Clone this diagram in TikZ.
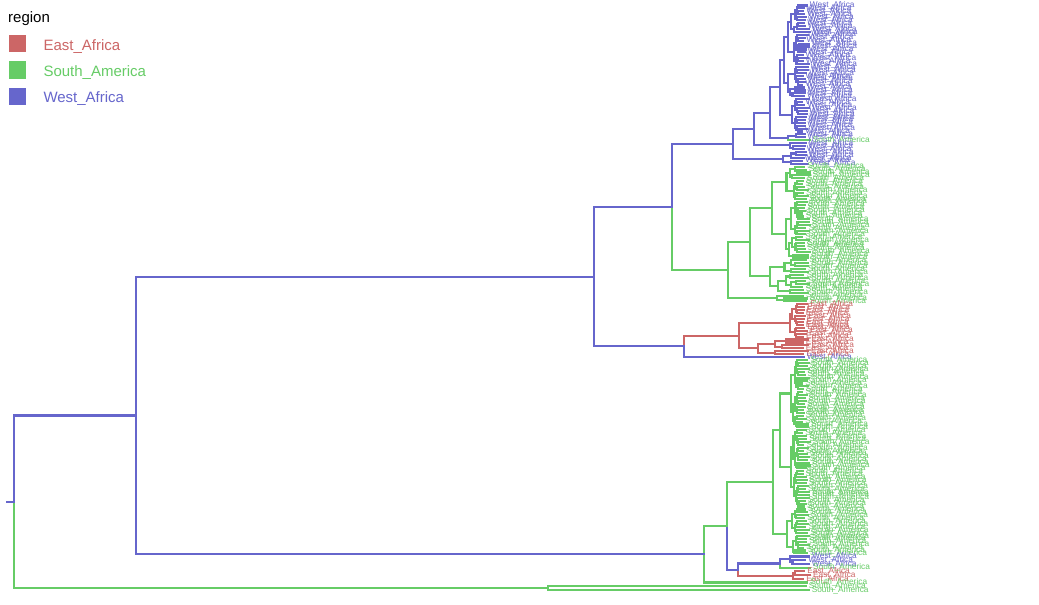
\documentclass[tikz,border=0pt]{standalone}
\usepackage{fontspec}
\setmainfont{Liberation Sans}
\definecolor{cE}{RGB}{204,102,102}
\definecolor{cS}{RGB}{102,204,102}
\definecolor{cW}{RGB}{102,102,204}
\newcommand\labcE{East\_Africa}
\newcommand\labcS{South\_America}
\newcommand\labcW{West\_Africa}
\tikzset{br/.style={line width=2.1pt, line cap=rect},
  lab/.style={font=\fontsize{8.3}{8.3}\selectfont, inner sep=0pt, anchor=west},
  legtext/.style={font=\fontsize{15}{15}\selectfont, inner sep=0pt, anchor=base west},
  swatch/.style={minimum size=17.5pt, inner sep=0pt, anchor=north west}}
% subtree: #1 parent x, #2 node x, #3 first leaf, #4 last leaf, #5 colour
\newcommand\bt[5]{%
  \begingroup
  \ifnum#3=#4\relax
    \pgfmathsetmacro\ly{leafy(#3)}%
    \pgfmathsetmacro\tx{802+8*rnd}%
    \draw[br,draw=#5] (#1,\ly) -- (\tx,\ly);
    \node[lab,text=#5] (leaf#3) at (\tx+3,\ly) {\csname lab#5\endcsname};
    \xdef\btY{\ly}%
  \else
    \pgfmathtruncatemacro\nn{#4-#3+1}%
    \pgfmathtruncatemacro\LL{max(1,min(\nn-1,round(\nn*(0.3+0.4*rnd))))}%
    \pgfmathtruncatemacro\mA{#3+\LL-1}%
    \pgfmathtruncatemacro\mB{\mA+1}%
    \pgfmathsetmacro\xL{#2+(799-#2)*(0.2+0.4*rnd)}%
    \pgfmathsetmacro\xR{#2+(799-#2)*(0.2+0.4*rnd)}%
    \edef\next{\noexpand\bt{#2}{\xL}{#3}{\mA}{#5}}\next
    \let\yL\btY
    \edef\next{\noexpand\bt{#2}{\xR}{\mB}{#4}{#5}}\next
    \let\yR\btY
    \pgfmathsetmacro\ny{(\yL+\yR)/2}%
    \draw[br,draw=#5] (#2,\yL) -- (#2,\yR);
    \draw[br,draw=#5] (#1,\ny) -- (#2,\ny);
    \xdef\btY{\ny}%
  \fi
  \endgroup}
% manual node: #1 parent x, #2 x, #3 upper y, #4 lower y, #5 upper colour, #6 lower colour, #7 stem colour
\newcommand\mnode[7]{%
  \pgfmathsetmacro\ny{(#3+#4)/2}%
  \draw[br,draw=#5] (#2,#3) -- (#2,\ny);
  \draw[br,draw=#6] (#2,\ny) -- (#2,#4);
  \draw[br,draw=#7] (#1,\ny) -- (#2,\ny);
  \xdef\btY{\ny}}
\begin{document}
\begin{tikzpicture}[x=1pt,y=-1pt,
  declare function={leafy(\x)=5.5+\x*2.93+(\x>187.5)*(0.79*\x-148.36);}]
\pgfmathsetseed{7}
\fill[white] (0,0) rectangle (1039,605);
\useasboundingbox (0,0) rectangle (1039,605);
% legend
\node[legtext] (legT) at (8,22.7) {region};
\node[swatch,fill=cE] (swE) at (8.3,34.5) {};
\node[swatch,fill=cS] (swS) at (8.3,61) {};
\node[swatch,fill=cW] (swW) at (8.3,87.5) {};
\node[legtext,text=cE] (legE) at (43.3,50) {East\_Africa};
\node[legtext,text=cS] (legS) at (43.3,76.3) {South\_America};
\node[legtext,text=cW] (legW) at (43.3,102.5) {West\_Africa};
% ---- top West Africa clade
\bt{780}{784}{0}{31}{cW}\let\yA\btY
\bt{780}{792}{32}{43}{cW}\let\yB\btY
\mnode{770}{780}{\yA}{\yB}{cW}{cW}{cW}\let\yC\btY
\bt{788}{796}{44}{45}{cW}\let\yD\btY
\bt{788}{0}{46}{46}{cS}\let\yE\btY
\mnode{770}{788}{\yD}{\yE}{cW}{cS}{cW}\let\yF\btY
\mnode{754}{770}{\yC}{\yF}{cW}{cW}{cW}\let\yG\btY
\bt{754}{790}{47}{49}{cW}\let\yH\btY
\mnode{733}{754}{\yG}{\yH}{cW}{cW}{cW}\let\yI\btY
\bt{733}{783}{50}{54}{cW}\let\yJ\btY
\mnode{672}{733}{\yI}{\yJ}{cW}{cW}{cW}\let\yTop\btY
% ---- South America clade
\bt{750}{772}{55}{86}{cS}\let\yA\btY
\bt{750}{770}{87}{98}{cS}\let\yB\btY
\mnode{728}{750}{\yA}{\yB}{cS}{cS}{cS}\let\yC\btY
\bt{728}{777}{99}{101}{cS}\let\yD\btY
\mnode{672}{728}{\yC}{\yD}{cS}{cS}{cS}\let\yMid\btY
\mnode{594}{672}{\yTop}{\yMid}{cW}{cS}{cW}\let\yN\btY
% ---- East Africa clade
\bt{739}{790}{102}{113}{cE}\let\yA\btY
\bt{739}{758}{114}{119}{cE}\let\yB\btY
\mnode{684}{739}{\yA}{\yB}{cE}{cE}{cE}\let\yC\btY
\bt{684}{0}{120}{120}{cW}\let\yD\btY
\mnode{594}{684}{\yC}{\yD}{cE}{cW}{cW}\let\yP\btY
\mnode{136}{594}{\yN}{\yP}{cW}{cW}{cW}\let\yQ\btY
% ---- lower South America clade
\bt{773}{780}{121}{171}{cS}\let\yA\btY
\bt{773}{787}{172}{187}{cS}\let\yB\btY
\mnode{727}{773}{\yA}{\yB}{cS}{cS}{cS}\let\yC\btY
\bt{780}{790}{188}{190}{cW}\let\yD\btY
\bt{780}{0}{191}{191}{cS}\let\yE\btY
\mnode{738}{780}{\yD}{\yE}{cW}{cS}{cW}\let\yF\btY
\bt{738}{793}{192}{194}{cE}\let\yG\btY
\mnode{727}{738}{\yF}{\yG}{cW}{cE}{cW}\let\yH\btY
\mnode{704}{727}{\yC}{\yH}{cS}{cW}{cS}\let\yI\btY
\bt{704}{0}{195}{195}{cS}\let\yJ\btY
\mnode{136}{704}{\yI}{\yJ}{cS}{cS}{cW}\let\yR\btY
\mnode{14}{136}{\yQ}{\yR}{cW}{cW}{cW}\let\yS\btY
% ---- root outgroup
\bt{548}{0}{196}{196}{cS}\let\yA\btY
\bt{548}{0}{197}{197}{cS}\let\yB\btY
\mnode{14}{548}{\yA}{\yB}{cS}{cS}{cS}\let\yT\btY
\mnode{7}{14}{\yS}{\yT}{cW}{cS}{cW}
\end{tikzpicture}
\end{document}
